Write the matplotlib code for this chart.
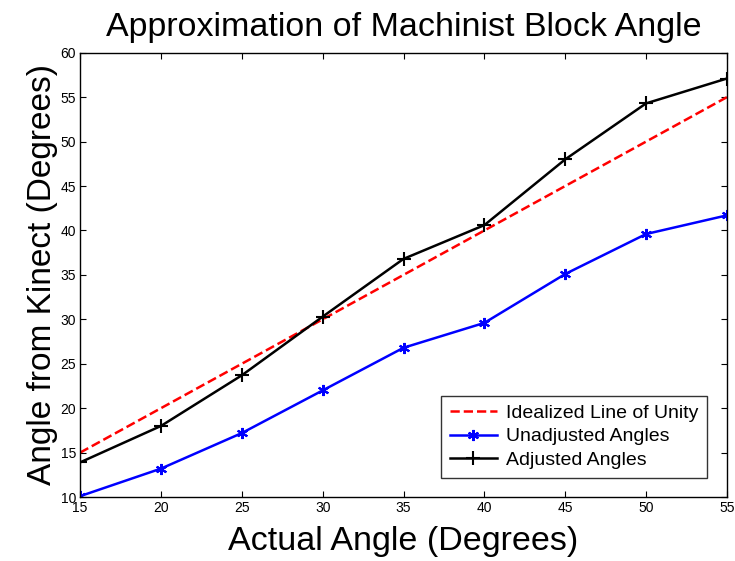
import matplotlib
matplotlib.use("Agg")
import matplotlib.pyplot as plt

actual = [15, 20, 25, 30, 35, 40, 45, 50, 55]
unity = [15, 20, 25, 30, 35, 40, 45, 50, 55]
unadjusted = [10.1, 13.2, 17.2, 22.0, 26.8, 29.6, 35.1, 39.6, 41.7]
adjusted = [13.9, 18.0, 23.7, 30.3, 36.8, 40.6, 48.0, 54.3, 57.1]
xticks = [15, 20, 25, 30, 35, 40, 45, 50, 55]
yticks = [10, 15, 20, 25, 30, 35, 40, 45, 50, 55, 60]

plt.rcParams['font.family'] = ['Liberation Sans', 'DejaVu Sans']

fig = plt.figure(figsize=(7.35, 5.61), dpi=100)
ax = fig.add_axes([0.109, 0.114, 0.880, 0.792])

ax.plot(actual, unity, '--', color='red', lw=1.8, label='Idealized Line of Unity')
ax.plot(actual, unadjusted, '-', color='blue', lw=1.8, marker=(6, 2, 0), ms=8, mew=1.5,
        label='Unadjusted Angles')
ax.plot(actual, adjusted, '-', color='black', lw=1.8, marker='+', ms=10, mew=1.5,
        label='Adjusted Angles')

ax.set_xlim(15, 55)
ax.set_ylim(10, 60)
ax.set_xticks(xticks)
ax.set_yticks(yticks)
ax.tick_params(direction='in', top=True, right=True, labelsize=10, length=4, pad=3)
for s in ax.spines.values():
    s.set_linewidth(1.0)

ax.set_title('Approximation of Machinist Block Angle', fontsize=24.5, pad=12)
ax.set_xlabel('Actual Angle (Degrees)', fontsize=24.5, labelpad=8)
ax.set_ylabel('Angle from Kinect (Degrees)', fontsize=24, labelpad=2)

leg = ax.legend(loc='lower right', fontsize=14, frameon=True, fancybox=False,
                edgecolor='black', borderaxespad=1.0, handlelength=2.4,
                labelspacing=0.3, borderpad=0.45, handletextpad=0.5)
leg.get_frame().set_linewidth(1.0)

fig.savefig('out.png', dpi=100)
